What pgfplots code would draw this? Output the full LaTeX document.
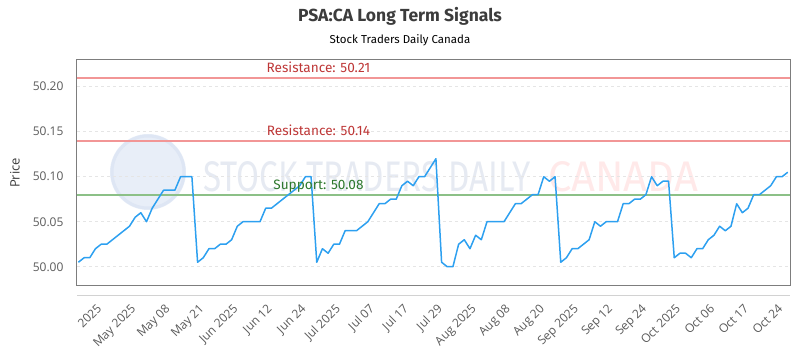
\documentclass[border=0pt]{standalone}
\usepackage{graphicx}
\usepackage{pgfplots}
\pgfplotsset{compat=1.18}
\usepackage{pgfplotstable}
\usepackage{fontspec}
\setmainfont{Open Sans}
\newfontfamily\titlefont{Fira Sans}
\definecolor{lineblue}{RGB}{45,160,240}
\definecolor{resred}{RGB}{242,150,150}
\definecolor{restext}{RGB}{190,55,55}
\definecolor{supgreen}{RGB}{140,192,135}
\definecolor{suptext}{RGB}{45,120,45}
\definecolor{framegray}{RGB}{125,125,125}
\definecolor{ticktext}{RGB}{90,90,90}
\definecolor{titlegray}{RGB}{60,60,60}
\definecolor{wmblue}{RGB}{232,238,248}
\definecolor{wmring}{RGB}{222,230,244}
\definecolor{wmtext}{RGB}{230,234,242}
\definecolor{wmpink}{RGB}{255,233,233}

\pgfplotstableread{
x y
0 50.005
1 50.010
2 50.010
3 50.020
4 50.025
5 50.025
6 50.030
7 50.035
8 50.040
9 50.045
10 50.055
11 50.060
12 50.050
13 50.065
14 50.075
15 50.085
16 50.085
17 50.085
18 50.100
19 50.100
20 50.100
21 50.005
22 50.010
23 50.020
24 50.020
25 50.025
26 50.025
27 50.030
28 50.045
29 50.050
30 50.050
31 50.050
32 50.050
33 50.065
34 50.065
35 50.070
36 50.075
37 50.080
38 50.085
39 50.090
40 50.100
41 50.100
42 50.005
43 50.020
44 50.015
45 50.025
46 50.025
47 50.040
48 50.040
49 50.040
50 50.045
51 50.050
52 50.060
53 50.070
54 50.070
55 50.075
56 50.075
57 50.090
58 50.095
59 50.090
60 50.100
61 50.100
62 50.110
63 50.120
64 50.005
65 50.000
66 50.000
67 50.025
68 50.030
69 50.020
70 50.035
71 50.030
72 50.050
73 50.050
74 50.050
75 50.050
76 50.060
77 50.070
78 50.070
79 50.075
80 50.080
81 50.080
82 50.100
83 50.095
84 50.100
85 50.005
86 50.010
87 50.020
88 50.020
89 50.025
90 50.030
91 50.050
92 50.045
93 50.050
94 50.050
95 50.050
96 50.070
97 50.070
98 50.075
99 50.075
100 50.080
101 50.100
102 50.090
103 50.095
104 50.095
105 50.010
106 50.015
107 50.015
108 50.010
109 50.020
110 50.020
111 50.030
112 50.035
113 50.045
114 50.040
115 50.045
116 50.070
117 50.060
118 50.065
119 50.080
120 50.080
121 50.085
122 50.090
123 50.100
124 50.100
125 50.105
}\pricedata

\begin{document}
\begin{tikzpicture}
\path[use as bounding box] (0pt,0pt) rectangle (800pt,350pt);
% watermark
\fill[wmblue] (148pt,178pt) circle (38pt);
\draw[wmring, line width=3pt] (148pt,178pt) circle (36pt);
\node[anchor=base west, inner sep=0pt, text=wmtext] at (203pt,158pt) {\resizebox{327pt}{30pt}{\titlefont STOCK TRADERS DAILY}};
\node[anchor=base west, inner sep=0pt, text=wmpink] at (548pt,158pt) {\resizebox{150pt}{30pt}{\titlefont CANADA}};
% titles
\node[font=\titlefont\bfseries\fontsize{17.5}{18}\selectfont, text=titlegray] at (400pt,334pt) {PSA:CA Long Term Signals};
\node[font=\titlefont\fontsize{11.5}{12}\selectfont, text=black] at (400pt,310pt) {Stock Traders Daily Canada};
% light axis line
\draw[gray!35, line width=1pt] (77pt,54pt) -- (790pt,54pt);
\begin{axis}[
  at={(77pt,64pt)}, anchor=south west,
  scale only axis, width=713pt, height=226pt,
  xmin=-0.25, xmax=125.4, ymin=49.9786, ymax=50.2297,
  axis line style={draw=framegray, line width=1pt},
  /pgf/number format/assume math mode=true,
  ytick={50,50.05,50.1,50.15,50.2},
  yticklabel style={/pgf/number format/.cd, fixed, fixed zerofill, precision=2, /tikz/.cd, font=\fontsize{12}{12}\selectfont, text=ticktext, xshift=-10pt},
  xtick={4,10,...,124},
  xticklabels={2025, May 2025, May 08, May 21, Jun 2025, Jun 12, Jun 24, Jul 2025, Jul 07, Jul 17, Jul 29, Aug 2025, Aug 08, Aug 20, Sep 2025, Sep 12, Sep 24, Oct 2025, Oct 06, Oct 17, Oct 24},
  xticklabel style={xshift=-5pt, yshift=-17pt, rotate=45, anchor=north east, inner sep=0pt, font=\fontsize{12}{12}\selectfont, text=ticktext},
  major tick length=0pt,
  ymajorgrids, grid style={gray!20, dash pattern=on 3pt off 3pt, line width=0.8pt},
  ylabel={Price},
  ylabel style={at={(axis description cs:-0.087,0.5)}, anchor=center, font=\fontsize{13}{13}\selectfont, text=titlegray},
  clip=true,
]
\addplot[resred, line width=2pt, forget plot] coordinates {(-0.25,50.21) (125.4,50.21)};
\addplot[resred, line width=2pt, forget plot] coordinates {(-0.25,50.14) (125.4,50.14)};
\addplot[supgreen, line width=2pt, forget plot] coordinates {(-0.25,50.08) (125.4,50.08)};
\addplot[lineblue, line width=1.5pt, mark=none, line join=round] table[x=x, y=y] {\pricedata};
\node[anchor=base, font=\titlefont\fontsize{13.6}{14}\selectfont, text=restext, yshift=5pt] at (axis cs:42.3,50.21) {Resistance: 50.21};
\node[anchor=base, font=\titlefont\fontsize{13.6}{14}\selectfont, text=restext, yshift=5pt] at (axis cs:42.3,50.14) {Resistance: 50.14};
\node[anchor=base, font=\titlefont\fontsize{13.6}{14}\selectfont, text=suptext, yshift=5pt] at (axis cs:42.3,50.08) {Support: 50.08};
\end{axis}
\end{tikzpicture}
\end{document}
